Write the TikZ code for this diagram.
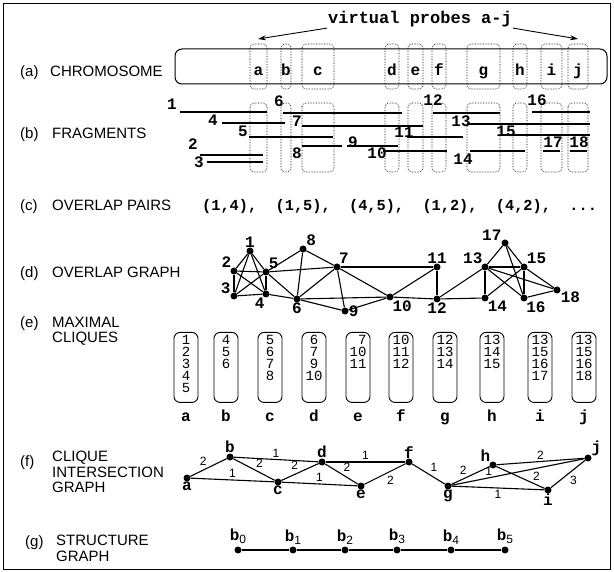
\documentclass[tikz,border=0pt]{standalone}
\usepackage{fontspec}
\setsansfont{Liberation Sans}
\setmonofont{Liberation Mono}
\usetikzlibrary{arrows.meta}

\newcommand{\bsub}[1]{b\raisebox{-3pt}{\sffamily\mdseries\fontsize{12}{12}\selectfont #1}}

\tikzset{
  rowlab/.style={font=\sffamily\fontsize{15}{15.5}\selectfont, align=left, inner sep=0pt},
  probe/.style={draw, densely dotted, line width=0.6pt, rounded corners=4pt},
  tag/.style={font=\ttfamily\bfseries\fontsize{16}{16}\selectfont, inner sep=1pt},
  frag/.style={line width=1.4pt},
  dot/.style={circle, fill, inner sep=0pt, minimum size=7pt},
  gedge/.style={line width=1.1pt},
  wt/.style={font=\sffamily\fontsize{12}{12}\selectfont, inner sep=1.5pt},
  cbox/.style={draw, rounded corners=6pt, line width=0.9pt, minimum width=24pt,
               minimum height=70pt, inner sep=0pt, anchor=north},
}

\begin{document}
\begin{tikzpicture}[x=1pt,y=-1pt]
  \useasboundingbox (0,0) rectangle (614,572);
  \draw[line width=1.5pt] (3.5,3.5) rectangle (610.5,569.5);

  % row labels
  \node[rowlab, anchor=base west] (la) at (20,77) {(a)};
  \node[rowlab, anchor=base west] (ta) at (50,77) {CHROMOSOME};
  \node[rowlab, anchor=base west] (lb) at (20,138.5) {(b)};
  \node[rowlab, anchor=base west] (tb) at (52,138.5) {FRAGMENTS};
  \node[rowlab, anchor=base west] (lc) at (20,210.5) {(c)};
  \node[rowlab, anchor=base west] (tc) at (52,210.5) {OVERLAP PAIRS};
  \node[rowlab, anchor=base west] (ld) at (20,277.5) {(d)};
  \node[rowlab, anchor=base west] (td) at (52,277.5) {OVERLAP GRAPH};
  \node[rowlab, anchor=base west] (le) at (20,328) {(e)};
  \node[rowlab, anchor=north west] (te) at (52,316.5) {MAXIMAL\\CLIQUES};
  \node[rowlab, anchor=base west] (lf) at (20,467) {(f)};
  \node[rowlab, anchor=north west] (tf) at (52,451) {CLIQUE\\INTERSECTION\\GRAPH};
  \node[rowlab, anchor=base west] (lg) at (25,546) {(g)};
  \node[rowlab, anchor=north west] (tg) at (56,535) {STRUCTURE\\GRAPH};

  % (a) chromosome with virtual probes
  \node[draw, rounded corners=7pt, line width=1pt, minimum width=432pt,
        minimum height=35pt] (chrom) at (391,66.5) {};
  \foreach \l/\xa/\xb in {a/250/267, b/281/291, c/302/334, d/385/399, e/408/423,
                          f/432/446, g/467/500, h/513/527, i/541/562, j/568/588} {
    \draw[probe] (\xa,44) rectangle (\xb,89);
    \draw[probe] (\xa,103) rectangle (\xb,172);
    \node[tag, anchor=base] (p\l) at ({(\xa+\xb)/2},76) {\l};
  }
  \node[tag, font=\ttfamily\bfseries\fontsize{17}{17}\selectfont] (vp) at (420,19) {virtual probes a-j};
  \coordinate (tipa) at (258,39);
  \coordinate (tipj) at (578,39);
  \draw[-{Stealth[length=8pt,width=5pt]}, line width=0.9pt] (vp.south west) -- (tipa);
  \draw[-{Stealth[length=8pt,width=5pt]}, line width=0.9pt] (vp.south east) -- (tipj);

  % (b) fragments
  \foreach \n/\lx/\ly/\xa/\xb/\y in {1/172/104/180/267/112, 2/193/144/200/263/155,
      3/199/162/207/263/162, 4/213/120/222/285/123, 5/243/131/249/333/137,
      6/279/101/283/402/113, 7/297/121/302/423/126, 8/297/153/302/342/146,
      9/353/142/347/398/146, 10/377/153/383/447/151, 11/404/132/407/463/137,
      12/433/100/433/500/113, 13/461/121/467/590/124, 14/463/159/470/525/151,
      15/506/131/502/590/135, 16/537/100/532/590/112, 17/553/142/543/560/151,
      18/579/142/570/587/151} {
    \draw[frag] (\xa,\y) -- (\xb,\y);
    \node[tag] (fr\n) at (\lx,\ly) {\n};
  }

  % (c) overlap pairs
  \node[tag, font=\ttfamily\bfseries\fontsize{15.3}{16}\selectfont, anchor=base west, inner sep=0pt]
    (pairs) at (202,210.5) {(1,4),\ \ (1,5),\ \ (4,5),\ \ (1,2),\ \ (4,2),\ \ ...};

  % (d) overlap graph
  \foreach \n/\x/\y/\a in {1/250/251/90, 2/234/271/125, 3/234/296/150, 4/266/294/265,
      5/266/272/55, 6/297/299/270, 7/337/267/70, 8/303/249/40, 9/345/311/0,
      10/390/297/-60, 11/437/267/90, 12/437/299/270, 13/485/267/120, 14/485/298/-55,
      15/524/267/50, 16/524/298/-65, 17/505/243/155, 18/557/290/-15} {
    \node[dot, label={[tag, label distance=-1pt]\a:\n}] (g\n) at (\x,\y) {};
  }
  \foreach \s/\t in {1/2, 1/3, 1/4, 1/5, 2/3, 2/4, 2/5, 3/4, 3/5, 4/5, 4/6, 5/6, 5/7,
      5/8, 6/7, 6/8, 7/8, 6/9, 6/10, 7/9, 7/10, 9/10, 7/11, 10/11, 10/12, 11/12,
      12/13, 12/14, 13/14, 13/15, 14/15, 13/16, 13/17, 13/18, 15/16, 15/17, 15/18,
      16/17, 16/18}
    \draw[gedge] (g\s) -- (g\t);

  % (e) maximal cliques
  \foreach \l/\x/\c in {a/186/{1\\2\\3\\4\\5}, b/226/{4\\5\\6}, c/270/{5\\6\\7\\8},
      d/314/{6\\7\\9\\10}, e/358/{\hphantom{1}7\\10\\11}, f/401/{10\\11\\12},
      g/445/{12\\13\\14}, h/492/{13\\14\\15}, i/540/{13\\15\\16\\17},
      j/584/{13\\15\\16\\18}} {
    \node[cbox] (mc\l) at (\x,332)
      {\parbox[t][64pt][t]{22pt}{\centering\ttfamily\fontsize{14}{12}\selectfont \c}};
    \node[tag, anchor=base] (ml\l) at (\x,422) {\l};
  }

  % (f) clique intersection graph
  \foreach \l/\x/\y/\a in {a/187/478/270, b/230/457/90, c/278/482/270, d/322/462/90,
      e/361/486/270, f/409/462/90, g/448/486/270, h/493/465/125, i/548/490/270,
      j/588/458/20} {
    \node[dot, label={[tag, label distance=-1pt]\a:\l}] (ci\l) at (\x,\y) {};
  }
  \draw[gedge] (cia) -- node[wt, above left] {2} (cib);
  \draw[gedge] (cia) -- node[wt, above] {1} (cic);
  \draw[gedge] (cib) -- node[wt, above right] {2} (cic);
  \draw[gedge] (cib) -- node[wt, above] {1} (cid);
  \draw[gedge] (cic) -- node[wt, above left] {2} (cid);
  \draw[gedge] (cic) -- node[wt, above] {1} (cie);
  \draw[gedge] (cid) -- node[wt, above right] {2} (cie);
  \draw[gedge] (cid) -- node[wt, above] {1} (cif);
  \draw[gedge] (cie) -- node[wt, below right] {2} (cif);
  \draw[gedge] (cif) -- node[wt, above right] {1} (cig);
  \draw[gedge] (cig) -- node[wt, above left, pos=.45] {2} (cih);
  \draw[gedge] (cig) -- node[wt, above, pos=.28] {1} (cij);
  \draw[gedge] (cih) -- node[wt, above] {2} (cij);
  \draw[gedge] (cih) -- node[wt, above right, pos=.72] {2} (cii);
  \draw[gedge] (cig) -- node[wt, below] {1} (cii);
  \draw[gedge] (cii) -- node[wt, below right] {3} (cij);

  % (g) structure graph
  \foreach \i/\x in {0/238, 1/293, 2/345, 3/397, 4/451, 5/505}
    \node[dot, label={[tag, label distance=1pt]above:\bsub{\i}}] (sb\i) at (\x,550) {};
  \foreach \i [evaluate=\i as \j using int(\i+1)] in {0,...,4}
    \draw[gedge] (sb\i) -- (sb\j);

\end{tikzpicture}
\end{document}
